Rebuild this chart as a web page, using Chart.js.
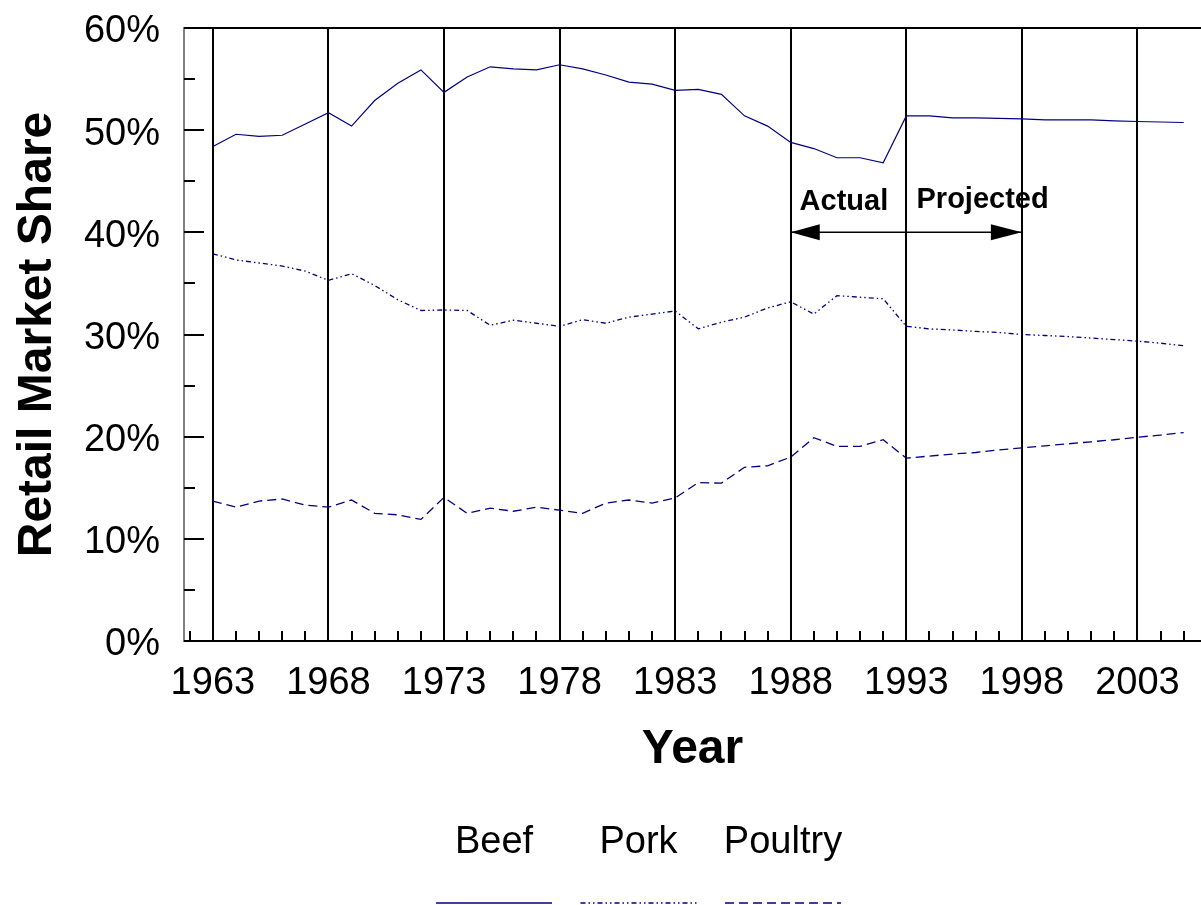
<!DOCTYPE html>
<html>
<head>
<meta charset="utf-8">
<script src="https://cdn.jsdelivr.net/npm/chart.js@4"></script>
<style>
  html, body { margin: 0; padding: 0; background: #fff; }
  #chart { display: block; }
</style>
</head>
<body>
<canvas id="chart" width="1201" height="905"></canvas>
<script>
// 年
var years = [1963, 1964, 1965, 1966, 1967, 1968, 1969, 1970, 1971, 1972, 1973,
    1974, 1975, 1976, 1977, 1978, 1979, 1980, 1981, 1982, 1983,
    1984, 1985, 1986, 1987, 1988, 1989, 1990, 1991, 1992,
    1993, 1994, 1995, 1996, 1997, 1998, 1999, 2000, 2001, 2002, 2003, 2004, 2005];

// 小売シェア (%)
var beef = [48.4, 49.6, 49.4, 49.5, 50.6, 51.7, 50.4, 52.9, 54.6, 55.9, 53.7,
    55.2, 56.2, 56.0, 55.9, 56.4, 56.0, 55.4, 54.7, 54.5, 53.9,
    54.0, 53.5, 51.4, 50.4, 48.8, 48.2, 47.3, 47.3, 46.8,
    51.4, 51.4, 51.2, 51.2, 51.15, 51.1, 51.0, 51.0, 51.0, 50.9, 50.85, 50.8, 50.75];
var pork = [37.9, 37.3, 37.0, 36.7, 36.2, 35.3, 35.95, 34.8, 33.4, 32.35, 32.4,
    32.35, 30.9, 31.4, 31.1, 30.8, 31.45, 31.1, 31.7, 32.0, 32.3,
    30.55, 31.2, 31.7, 32.6, 33.2, 32.0, 33.8, 33.65, 33.5,
    30.8, 30.55, 30.45, 30.3, 30.2, 30.0, 29.9, 29.8, 29.65, 29.5, 29.35, 29.15, 28.9];
var poultry = [13.7, 13.1, 13.7, 13.9, 13.3, 13.1, 13.8, 12.5, 12.35, 11.9, 14.05,
    12.5, 13.0, 12.7, 13.1, 12.8, 12.5, 13.5, 13.8, 13.5, 14.0,
    15.5, 15.45, 17.0, 17.15, 18.0, 19.9, 19.05, 19.05, 19.7,
    17.9, 18.1, 18.3, 18.45, 18.7, 18.9, 19.1, 19.3, 19.5, 19.7, 19.95, 20.15, 20.4];

// 目盛り
var xTickYears = [1963, 1968, 1973, 1978, 1983, 1988, 1993, 1998, 2003];
var yTicks = [0, 10, 20, 30, 40, 50, 60];

var FONT = 'Liberation Sans, Arial, sans-serif';
var NAVY = '#000080';

function toPoints(vals) {
    return years.map(function (y, i) { return { x: y, y: vals[i] }; });
}

// 枠・内側目盛り・注記・凡例
var extras = {
    id: 'extras',
    afterDraw: function (chart) {
        var ctx = chart.ctx;
        var area = chart.chartArea;
        var xs = chart.scales.x;
        var ys = chart.scales.y;
        ctx.save();

        // 上枠
        ctx.strokeStyle = '#000';
        ctx.lineWidth = 2;
        ctx.beginPath();
        ctx.moveTo(area.left, area.top);
        ctx.lineTo(area.right, area.top);
        ctx.stroke();

        // y軸の目盛り (内側)
        for (var v = 0; v <= 60; v += 5) {
            var py = Math.round(ys.getPixelForValue(v));
            var len = (v % 10 == 0) ? 20 : 11;
            ctx.beginPath();
            ctx.moveTo(area.left, py);
            ctx.lineTo(area.left + len, py);
            ctx.stroke();
        }

        // x軸の補助目盛り (毎年)
        ctx.lineWidth = 2;
        for (var yr = 1962; yr <= 2005; yr++) {
            var px = Math.round(xs.getPixelForValue(yr));
            ctx.beginPath();
            ctx.moveTo(px, area.bottom);
            ctx.lineTo(px, area.bottom - 10);
            ctx.stroke();
        }

        // Actual / Projected 矢印
        var ay = ys.getPixelForValue(40);
        var ax1 = xs.getPixelForValue(1988);
        var ax2 = xs.getPixelForValue(1998);
        ctx.lineWidth = 1.5;
        ctx.beginPath();
        ctx.moveTo(ax1, ay);
        ctx.lineTo(ax2, ay);
        ctx.stroke();
        ctx.fillStyle = '#000';
        ctx.beginPath();
        ctx.moveTo(ax1, ay);
        ctx.lineTo(ax1 + 29, ay - 8);
        ctx.lineTo(ax1 + 29, ay + 8);
        ctx.closePath();
        ctx.fill();
        ctx.beginPath();
        ctx.moveTo(ax2, ay);
        ctx.lineTo(ax2 - 31, ay - 8);
        ctx.lineTo(ax2 - 31, ay + 8);
        ctx.closePath();
        ctx.fill();

        ctx.font = 'bold 29px ' + FONT;
        ctx.textAlign = 'center';
        ctx.textBaseline = 'alphabetic';
        ctx.fillText('Actual', xs.getPixelForValue(1990.3), ys.getPixelForValue(42.2));
        ctx.fillText('Projected', xs.getPixelForValue(1996.3), ys.getPixelForValue(42.4));

        // 凡例
        ctx.font = '38px ' + FONT;
        ctx.textBaseline = 'middle';
        chart.data.datasets.forEach(function (ds, i) {
            var x0 = 436 + i * 144.5;
            var w = 116;
            ctx.fillStyle = '#000';
            ctx.fillText(ds.label, x0 + w / 2, 843);
            ctx.strokeStyle = ds.borderColor;
            ctx.lineWidth = 1.5;
            ctx.setLineDash(ds.borderDash || []);
            ctx.beginPath();
            ctx.moveTo(x0, 903);
            ctx.lineTo(x0 + w, 903);
            ctx.stroke();
            ctx.setLineDash([]);
        });

        ctx.restore();
    }
};

var ctx = document.getElementById('chart').getContext('2d');
var chart = new Chart(ctx, {
    type: 'line',
    data: {
        datasets: [{
            label: 'Beef',
            data: toPoints(beef),
            borderColor: NAVY,
            borderWidth: 1.2,
            pointRadius: 0,
            tension: 0
        }, {
            label: 'Pork',
            data: toPoints(pork),
            borderColor: NAVY,
            borderWidth: 1.3,
            borderDash: [5, 3, 1.5, 3, 1.5, 3],
            pointRadius: 0,
            tension: 0
        }, {
            label: 'Poultry',
            data: toPoints(poultry),
            borderColor: NAVY,
            borderWidth: 1.3,
            borderDash: [9, 5],
            pointRadius: 0,
            tension: 0
        }]
    },
    options: {
        responsive: false,
        animation: false,
        layout: { padding: { top: 28, left: 0, right: 0, bottom: 0 } },
        plugins: {
            legend: { display: false },
            tooltip: { enabled: false }
        },
        scales: {
            x: {
                type: 'linear',
                min: 1961.75,
                max: 2005.75,
                afterBuildTicks: function (axis) {
                    axis.ticks = xTickYears.map(function (v) { return { value: v }; });
                },
                afterFit: function (axis) {
                    axis.height = 264;
                    axis.paddingLeft = 0;
                    axis.paddingRight = 0;
                },
                ticks: {
                    autoSkip: false,
                    maxRotation: 0,
                    padding: 20,
                    color: '#000',
                    font: { family: FONT, size: 38 },
                    callback: function (v) { return String(v); }
                },
                grid: { color: '#000', lineWidth: 2, drawTicks: false },
                border: { color: '#000', width: 2 },
                title: {
                    display: true,
                    text: 'Year',
                    color: '#000',
                    font: { family: FONT, size: 48, weight: 'bold' },
                    padding: { top: 0, bottom: 126 }
                }
            },
            y: {
                min: 0,
                max: 60,
                afterBuildTicks: function (axis) {
                    axis.ticks = yTicks.map(function (v) { return { value: v }; });
                },
                afterFit: function (axis) {
                    axis.width = 184;
                    axis.paddingTop = 0;
                    axis.paddingBottom = 0;
                },
                ticks: {
                    padding: 24,
                    labelOffset: 4,
                    color: '#000',
                    font: { family: FONT, size: 38 },
                    callback: function (v) { return v + '%'; }
                },
                grid: { display: false, drawTicks: false },
                border: { color: '#808080', width: 2 },
                title: {
                    display: true,
                    text: 'Retail Market Share',
                    color: '#000',
                    font: { family: FONT, size: 48, weight: 'bold' },
                    padding: { top: 9, bottom: 0 }
                }
            }
        }
    },
    plugins: [extras]
});
</script>
</body>
</html>
